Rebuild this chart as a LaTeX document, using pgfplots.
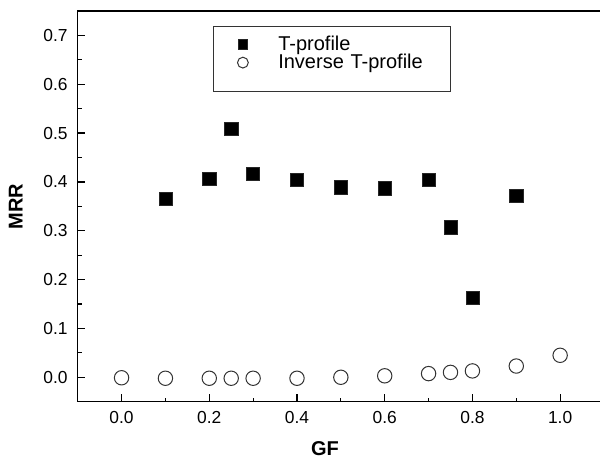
\documentclass[border=0pt]{standalone}
\usepackage{pgfplots}
\pgfplotsset{compat=1.18}
\usepackage{fontspec}
\setmainfont{Liberation Sans}
\begin{document}
\begin{tikzpicture}
\useasboundingbox (-38.85pt,-28.15pt) rectangle (261.15pt,200.85pt);
\begin{axis}[
  at={(0,0)}, anchor=south west,
  scale only axis,
  width=263.15pt, height=195.35pt,
  xmin=-0.1, xmax=1.1,
  ymin=-0.05, ymax=0.75,
  xtick={0,0.2,...,1.0},
  ytick={0,0.1,...,0.7},
  minor x tick num=1,
  minor y tick num=1,
  xtick pos=bottom, ytick pos=left,
  tick align=inside,
  major tick length=3.8pt,
  minor tick length=1.9pt,
  axis line style={line width=0.7pt},
  every tick/.style={line width=0.6pt, black},
  /pgf/number format/.cd, fixed, fixed zerofill, precision=1, assume math mode=true,
  /pgfplots/.cd,
  tick label style={font=\fontsize{8.7pt}{10pt}\selectfont},
  xticklabel style={yshift=-1.5pt},
  yticklabel style={xshift=-1.5pt},
  xlabel={\textbf{GF}},
  ylabel={\textbf{MRR}},
  label style={font=\fontsize{10pt}{12pt}\selectfont},
  xlabel style={at={(axis description cs:0.47,0)}, anchor=base, yshift=-27pt, inner sep=0pt, text depth=0pt},
  ylabel style={at={(axis description cs:0,0.5)}, anchor=south, yshift=24pt},
  legend style={at={(axis description cs:0.2577,0.9624)}, anchor=north west,
    draw=black!80, line width=0.5pt,
    font=\fontsize{10pt}{10pt}\selectfont,
    inner xsep=6pt, inner ysep=4.5pt, row sep=0pt,
    nodes={text width=78pt, align=left, text height=7.5pt, text depth=1.65pt, inner ysep=0pt},
    /tikz/every odd column/.append style={column sep=13pt}},
  legend cell align=left,
]
\addplot[only marks, mark=square*, mark size=3.3pt, mark options={fill=black, draw=black!85, line width=0.3pt},
  legend image post style={mark size=2.4pt}]
coordinates {
(0.1,0.365) (0.2,0.407) (0.25,0.508) (0.3,0.417) (0.4,0.404) (0.5,0.389)
(0.6,0.387) (0.7,0.404) (0.75,0.307) (0.8,0.163) (0.9,0.372)
};
\addlegendentry{T-profile}
\addplot[only marks, mark=o, mark size=3.6pt, mark options={fill=white, draw=black!80, line width=0.5pt},
  legend image post style={mark size=2.7pt}]
coordinates {
(0.0,-0.001) (0.1,-0.002) (0.2,-0.002) (0.25,-0.002) (0.3,-0.002) (0.4,-0.002)
(0.5,0.000) (0.6,0.003) (0.7,0.0075) (0.75,0.010) (0.8,0.013) (0.9,0.023) (1.0,0.045)
};
\addlegendentry{Inverse T-profile}
\addlegendimage{empty legend}
\addlegendentry[text height=0pt, text depth=5.15pt]{}
\end{axis}
\end{tikzpicture}
\end{document}
